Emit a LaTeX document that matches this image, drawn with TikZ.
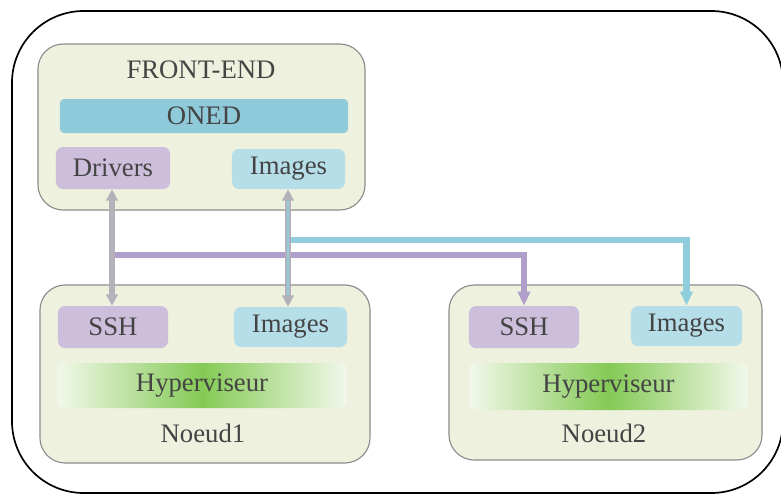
\documentclass[tikz,border=0pt]{standalone}
\usepackage{fontspec}
\setmainfont{Liberation Serif}
\usetikzlibrary{arrows.meta}

\definecolor{boxfill}{HTML}{EEF1DE}
\definecolor{boxline}{HTML}{8C8C8C}
\definecolor{onedblue}{HTML}{8FCADB}
\definecolor{lilac}{HTML}{CDBFDC}
\definecolor{skyblue}{HTML}{B5DEE9}
\definecolor{hypmid}{HTML}{84CA55}
\definecolor{hypend}{HTML}{F2F8EA}
\definecolor{purpleline}{HTML}{B09FCA}
\definecolor{blueline}{HTML}{8FCCDC}
\definecolor{arrowgray}{HTML}{B4B1BA}
\definecolor{txt}{HTML}{444444}

\tikzset{
  box/.style={draw=boxline, fill=boxfill, line width=0.8pt, rounded corners=18pt},
  part/.style={rounded corners=5pt, inner sep=0pt},
  hyper/.style={part, left color=hypend, right color=hypend, middle color=hypmid},
  grayarrow/.style={draw=arrowgray, line width=3.6pt,
    {Triangle[width=8pt,length=8pt]}-{Triangle[width=8pt,length=8pt]}},
  link/.style={line width=4.4pt, -{Triangle[width=8.5pt,length=10pt]}}
}

\begin{document}
\begin{tikzpicture}[x=0.025cm, y=-0.025cm,
    every node/.style={font=\fontsize{19}{21}\selectfont, text=txt}]
  \useasboundingbox (0,0) rectangle (781,495);

  % Outer frame
  \draw[line width=1.2pt, rounded corners=51pt] (12,11) rectangle (783,493);

  % Front-end
  \node[box, minimum width=8.175cm, minimum height=4.15cm] (frontend) at (201.5,127) {};
  \node (fetitle) at (201,70) {FRONT-END};
  \node[part, fill=onedblue, rounded corners=3pt, minimum width=7.2cm, minimum height=0.85cm] (oned) at (204,116) {ONED};
  \node[part, fill=lilac, minimum width=2.85cm, minimum height=1.05cm] (drivers) at (113,168) {Drivers};
  \node[part, fill=skyblue, minimum width=2.825cm, minimum height=1.0cm] (imgfe) at (288.5,169) {Images};

  % Noeud1
  \node[box, minimum width=8.25cm, minimum height=4.45cm] (noeudA) at (205,374) {};
  \node[part, fill=lilac, minimum width=2.75cm, minimum height=1.05cm] (sshA) at (113,327) {SSH};
  \node[part, fill=skyblue, minimum width=2.825cm, minimum height=1.0cm] (imgA) at (290.5,327) {Images};
  \node[hyper, minimum width=7.25cm, minimum height=1.125cm] (hypA) at (202,385.5) {Hyperviseur};
  \node (labelA) at (203,433) {Noeud1};

  % Noeud2
  \node[box, minimum width=7.825cm, minimum height=4.375cm] (noeudB) at (605.5,372.5) {};
  \node[part, fill=lilac, minimum width=2.75cm, minimum height=1.05cm] (sshB) at (524,327) {SSH};
  \node[part, fill=skyblue, minimum width=2.775cm, minimum height=1.0cm] (imgB) at (686.5,326) {Images};
  \node[hyper, minimum width=6.975cm, minimum height=1.175cm] (hypB) at (608.5,386.5) {Hyperviseur};
  \node (labelB) at (604,433) {Noeud2};

  % Links to Noeud2
  \coordinate (bluestart) at (288,240);
  \coordinate (purplestart) at (112,255);
  \draw[link, draw=blueline] (bluestart) -| (imgB.north);
  \draw[link, draw=purpleline] (purplestart) -| (sshB.north);

  % Front-end to Noeud1
  \draw[grayarrow] (drivers.south -| purplestart) -- (sshA.north -| purplestart);
  \draw[grayarrow] (imgfe.south -| bluestart) -- (imgA.north -| bluestart);
  \draw[blueline, line width=1.6pt, shorten <=8pt, shorten >=8pt] (imgfe.south -| bluestart) -- (imgA.north -| bluestart);
\end{tikzpicture}
\end{document}
